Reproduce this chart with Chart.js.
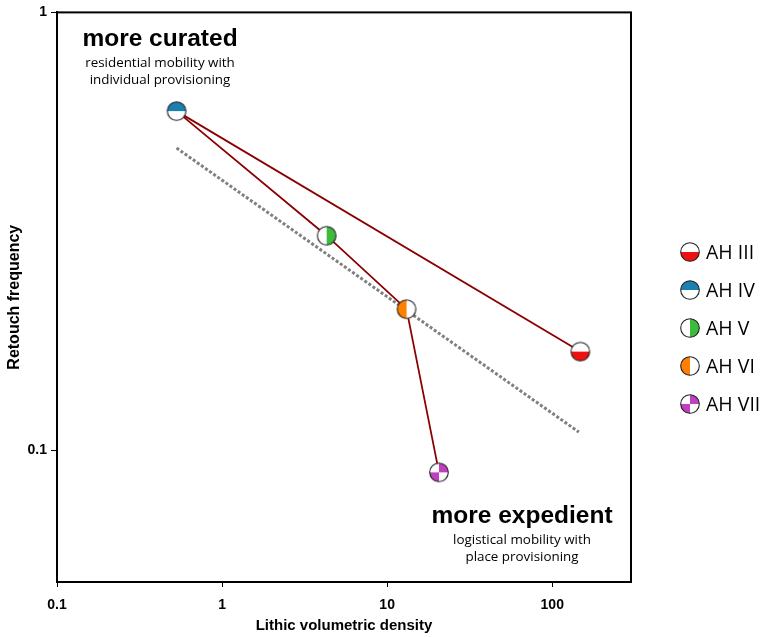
<!DOCTYPE html>
<html>
<head>
<meta charset="utf-8">
<script src="https://cdn.jsdelivr.net/npm/chart.js@4.4.1/dist/chart.umd.min.js"></script>
<style>
html, body { margin: 0; padding: 0; background: #fff; }
</style>
</head>
<body>
<canvas id="grafico" width="767" height="637"></canvas>
<script>
// Data
const groups = ['AH III', 'AH IV', 'AH V', 'AH VI', 'AH VII'];
const density = [148, 0.53, 4.3, 13.1, 20.6];      // lithic volumetric density
const retouch = [0.168, 0.595, 0.309, 0.21, 0.089]; // retouch frequency
const links = [['AH IV', 'AH III'], ['AH IV', 'AH V', 'AH VI', 'AH VII']];
const trendX = [0.53, 145];
const trendY = [0.49, 0.11];
const ticksX = [0.1, 1, 10, 100];
const ticksY = [0.1, 1];

// marker look per group: fill colour and which part is filled
const markerFill = ['#ee1111', '#1b7fb0', '#3dbb3d', '#ff7f00', '#bf3fbf'];
const markerPart = ['bottom', 'top', 'right', 'left', 'quarters'];

function makeMarker(fill, part) {
    const c = document.createElement('canvas');
    c.width = 22; c.height = 22;
    const g = c.getContext('2d');
    const cx = 11, cy = 11, r = 9.3;
    g.fillStyle = '#fff';
    g.beginPath(); g.arc(cx, cy, r, 0, Math.PI * 2); g.fill();
    const wedges = {
        bottom: [[0, Math.PI]],
        top: [[Math.PI, Math.PI * 2]],
        right: [[-Math.PI / 2, Math.PI / 2]],
        left: [[Math.PI / 2, Math.PI * 1.5]],
        quarters: [[-Math.PI / 2, 0], [Math.PI / 2, Math.PI]]
    }[part];
    g.fillStyle = fill;
    wedges.forEach(function (w) {
        g.beginPath(); g.moveTo(cx, cy); g.arc(cx, cy, r, w[0], w[1]); g.closePath(); g.fill();
    });
    g.strokeStyle = '#222'; g.lineWidth = 1.1;
    g.beginPath(); g.arc(cx, cy, r, 0, Math.PI * 2); g.stroke();
    return c;
}
const markers = groups.map((n, i) => makeMarker(markerFill[i], markerPart[i]));

function pointOf(name) {
    const i = groups.indexOf(name);
    return { x: density[i], y: retouch[i] };
}

const datasets = [];
groups.forEach(function (name, i) {
    datasets.push({
        label: name,
        data: [{ x: density[i], y: retouch[i] }],
        pointStyle: markers[i],
        pointRadius: 9,
        pointHoverRadius: 9,
        order: 0
    });
});
links.forEach(function (chain) {
    datasets.push({
        label: 'link',
        data: chain.map(pointOf),
        showLine: true,
        borderColor: '#8b0000',
        borderWidth: 1.8,
        pointRadius: 0,
        order: 2
    });
});
datasets.push({
    label: 'trend',
    data: trendX.map((x, i) => ({ x: x, y: trendY[i] })),
    showLine: true,
    borderColor: '#808080',
    borderWidth: 3,
    borderDash: [3, 2],
    pointRadius: 0,
    order: 3
});

// frame, annotations and legend
const extras = {
    id: 'extras',
    beforeDatasetsDraw(chart) {
        const { ctx, chartArea: a } = chart;
        ctx.save();
        ctx.strokeStyle = '#000';
        ctx.lineWidth = 2;
        ctx.strokeRect(a.left, a.top, a.right - a.left, a.bottom - a.top);
        ctx.restore();
    },
    afterDraw(chart) {
        const ctx = chart.ctx;
        ctx.save();
        ctx.fillStyle = '#000';
        ctx.textAlign = 'center';
        ctx.textBaseline = 'middle';
        function note(x, y, head, lines) {
            ctx.font = 'bold 24.5px "Liberation Sans", Arial, sans-serif';
            ctx.fillText(head, x, y);
            ctx.font = '13.4px "Open Sans", sans-serif';
            lines.forEach((t, k) => ctx.fillText(t, x, y + 24 + k * 17));
        }
        note(160, 39, 'more curated', ['residential mobility with', 'individual provisioning']);
        note(522, 516, 'more expedient', ['logistical mobility with', 'place provisioning']);

        // legend
        ctx.textAlign = 'left';
        ctx.font = '19.5px "Open Sans", sans-serif';
        groups.forEach(function (name, i) {
            const y = 252 + i * 38;
            ctx.drawImage(markers[i], 690 - 11, y - 11);
            ctx.fillText(name, 706, y + 1);
        });
        ctx.restore();
    }
};

const tickFont = { family: '"Liberation Sans", Arial, sans-serif', size: 14, weight: 'bold' };
const titleFont = { family: '"Liberation Sans", Arial, sans-serif', size: 15, weight: 'bold' };

new Chart(document.getElementById('grafico'), {
    type: 'scatter',
    data: { datasets: datasets },
    options: {
        responsive: false,
        animation: false,
        devicePixelRatio: 1,
        layout: { padding: { top: 11, right: 136, left: 0, bottom: 0 } },
        plugins: { legend: { display: false }, tooltip: { enabled: false } },
        scales: {
            x: {
                type: 'logarithmic',
                min: 0.1,
                max: 300,
                afterBuildTicks: s => { s.ticks = ticksX.map(v => ({ value: v })); },
                afterFit: s => { s.height = 55; },
                ticks: { color: '#000', font: tickFont, padding: 10, callback: v => String(v) },
                grid: { drawOnChartArea: false, drawTicks: true, tickLength: 5, color: '#000' },
                border: { display: true, color: '#000', width: 2 },
                title: { display: true, text: 'Lithic volumetric density', color: '#000', font: titleFont, padding: { top: 0, bottom: 2 } }
            },
            y: {
                type: 'logarithmic',
                min: 0.05,
                max: 1,
                afterBuildTicks: s => { s.ticks = ticksY.map(v => ({ value: v })); },
                afterFit: s => { s.width = 57; },
                ticks: { color: '#000', font: tickFont, padding: 4, callback: v => String(v) },
                grid: { drawOnChartArea: false, drawTicks: true, tickLength: 6, color: '#000' },
                border: { display: true, color: '#000', width: 2 },
                title: { display: true, text: 'Retouch frequency', color: '#000', font: { family: titleFont.family, size: 16, weight: 'bold' }, padding: { top: 5, bottom: 0 } }
            }
        }
    },
    plugins: [extras]
});
</script>
</body>
</html>
